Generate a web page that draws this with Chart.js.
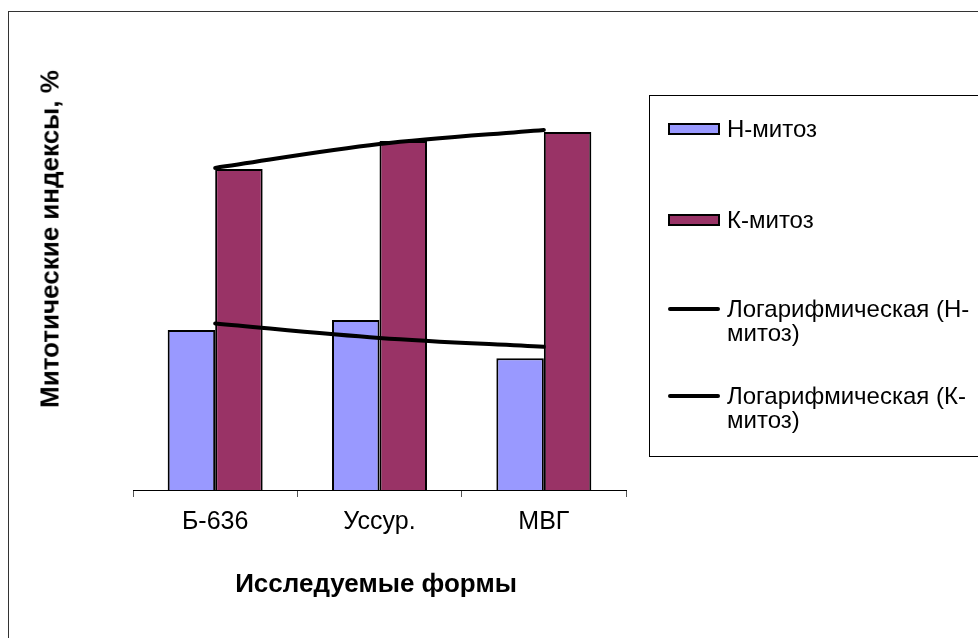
<!DOCTYPE html>
<html>
<head>
<meta charset="utf-8">
<script src="https://cdn.jsdelivr.net/npm/chart.js@4"></script>
<style>
  body { margin: 0; background: #fff; font-family: Arial, "Liberation Sans", sans-serif; }
  #wrap { position: relative; width: 978px; height: 638px; overflow: hidden; }
  #frame { position: absolute; left: 8px; top: 11px; width: 1000px; height: 700px; border-left: 1px solid #333; border-top: 1px solid #333; }
  canvas { position: absolute; left: 0; top: 0; }
  .ytitle { position: absolute; left: 50px; top: 239px; transform: translate(-50%, -50%) rotate(-90deg); font-weight: bold; font-size: 26px; white-space: nowrap; color: #000; }
  .xtitle { position: absolute; left: 376px; top: 583px; transform: translate(-50%, -50%); font-weight: bold; font-size: 26px; white-space: nowrap; color: #000; }
  #legend { position: absolute; left: 649px; top: 95px; width: 400px; height: 360px; border: 1px solid #000; }
  .item { position: absolute; left: 18px; font-size: 24px; line-height: 24px; color: #000; }
  .item .txt { position: absolute; left: 59px; top: 0; white-space: nowrap; }
  .sw { position: absolute; left: 0; width: 48px; height: 8px; border: 2px solid #000; }
  .ln { position: absolute; left: 0; width: 52px; height: 4px; background: #000; border-radius: 2px; }
</style>
</head>
<body>
<div id="wrap">
  <div id="frame"></div>
  <canvas id="chart" width="978" height="638"></canvas>
  <div class="ytitle">Митотические индексы, %</div>
  <div class="xtitle">Исследуемые формы</div>
  <div id="legend"></div>
</div>
<script>
const categories = ['Б-636', 'Уссур.', 'МВГ'];
const nMitoz = [4.10, 4.36, 3.38];
const kMitoz = [8.23, 8.95, 9.18];
// logarithmic trend values at each category
const nTrend = [4.27, 3.90, 3.67];
const kTrend = [8.26, 8.87, 9.23];
const seriesNames = ['Н-митоз', 'К-митоз', 'Логарифмическая (Н-<br>митоз)', 'Логарифмическая (К-<br>митоз)'];

const nColor = '#9999FF';
const kColor = '#993366';

new Chart(document.getElementById('chart'), {
  data: {
    labels: categories,
    datasets: [
      { type: 'line', label: 'trendN', data: nTrend, borderColor: '#000', borderWidth: 4, pointRadius: 0, cubicInterpolationMode: 'monotone', borderCapStyle: 'round', order: 1 },
      { type: 'line', label: 'trendK', data: kTrend, borderColor: '#000', borderWidth: 4, pointRadius: 0, cubicInterpolationMode: 'monotone', borderCapStyle: 'round', order: 1 },
      { type: 'bar', label: 'Н-митоз', data: nMitoz, backgroundColor: nColor, borderColor: '#000', borderWidth: 2, order: 2 },
      { type: 'bar', label: 'К-митоз', data: kMitoz, backgroundColor: kColor, borderColor: '#000', borderWidth: 2, order: 2 },
    ],
  },
  options: {
    responsive: false,
    animation: false,
    layout: { padding: { left: 133, right: 352, top: 100, bottom: 0 } },
    datasets: { bar: { categoryPercentage: 0.578, barPercentage: 1 } },
    plugins: { legend: { display: false }, tooltip: { enabled: false } },
    scales: {
      x: {
        offset: true,
        afterFit: (scale) => { scale.height = 148; },
        grid: { display: true, drawOnChartArea: false, drawTicks: true, tickLength: 7, color: '#555', offset: true },
        border: { display: true, color: '#000', width: 1 },
        ticks: { color: '#000', padding: 10, font: { family: 'Arial, "Liberation Sans"', size: 25 } },
      },
      y: {
        display: false,
        min: 0,
        max: 10,
      },
    },
  },
});

// legend
const legend = document.getElementById('legend');
const itemTops = [21, 112, 201, 288];
seriesNames.forEach((name, i) => {
  const item = document.createElement('div');
  item.className = 'item';
  item.style.top = itemTops[i] + 'px';
  let mark;
  if (i < 2) {
    mark = '<div class="sw" style="top:6px;background:' + (i === 0 ? nColor : kColor) + '"></div>';
  } else {
    mark = '<div class="ln" style="top:10px"></div>';
  }
  item.innerHTML = mark + '<div class="txt">' + name + '</div>';
  legend.appendChild(item);
});
</script>
</body>
</html>
